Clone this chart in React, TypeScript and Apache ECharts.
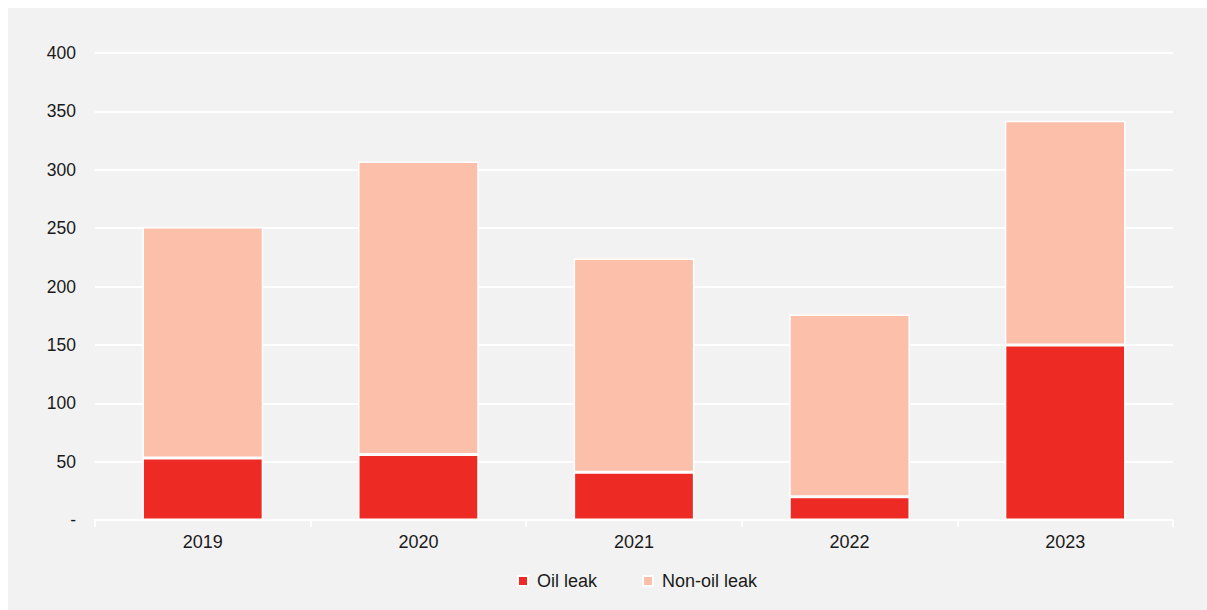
import React, { useEffect, useRef } from "react";
import * as echarts from "echarts";

const years = ["2019", "2020", "2021", "2022", "2023"];
const oilLeak = [53, 56, 41, 20, 150];
const nonOilLeak = [198, 251, 183, 156, 192];

export default function App() {
  const ref = useRef<HTMLDivElement>(null);
  useEffect(() => {
    document.documentElement.style.overflow = "hidden";
    document.body.style.overflow = "hidden";
    document.body.style.margin = "0";
    if (!ref.current) return;
    const chart = echarts.init(ref.current, null, { renderer: "svg" });
    const font = "'Liberation Sans', Arial, sans-serif";
    chart.setOption({
      animation: false,
      backgroundColor: "#f2f2f2",
      grid: { left: 87, right: 34, top: 45, bottom: 90, containLabel: false },
      legend: {
        bottom: 15,
        left: 504,
        icon: "rect",
        itemWidth: 10,
        itemHeight: 10,
        itemGap: 45,
        textStyle: { fontFamily: font, fontSize: 18, color: "#1a1a1a", padding: [0, 0, 0, 4] },
        data: ["Oil leak", "Non-oil leak"],
      },
      xAxis: {
        type: "category",
        data: years,
        axisLine: { show: true, lineStyle: { color: "#ffffff", width: 2 } },
        axisTick: { show: true, alignWithLabel: false, length: 7, lineStyle: { color: "#ffffff", width: 2 } },
        axisLabel: { fontFamily: font, fontSize: 18, color: "#1a1a1a", margin: 13 },
      },
      yAxis: {
        type: "value",
        min: 0,
        max: 400,
        interval: 50,
        axisLine: { show: false },
        axisTick: { show: false },
        splitLine: { show: true, lineStyle: { color: "#ffffff", width: 2 } },
        axisLabel: {
          fontFamily: font,
          fontSize: 17.5,
          color: "#1a1a1a",
          margin: 19,
          formatter: (v: number) => (v === 0 ? "-" : String(v)),
        },
      },
      series: [
        {
          name: "Oil leak",
          type: "bar",
          stack: "total",
          data: oilLeak,
          barWidth: "56%",
          itemStyle: { color: "#ee2a24", borderColor: "#ffffff", borderWidth: 1.5 },
        },
        {
          name: "Non-oil leak",
          type: "bar",
          stack: "total",
          data: nonOilLeak,
          barWidth: "56%",
          itemStyle: { color: "#fbbfaa", borderColor: "#ffffff", borderWidth: 1.5 },
        },
      ],
    });
    return () => chart.dispose();
  }, []);
  return (
    <div style={{ position: "relative", width: 1207, height: 610, background: "#ffffff", overflow: "hidden" }}>
      <div ref={ref} style={{ position: "absolute", left: 8, top: 8, width: 1199, height: 602 }} />
    </div>
  );
}
